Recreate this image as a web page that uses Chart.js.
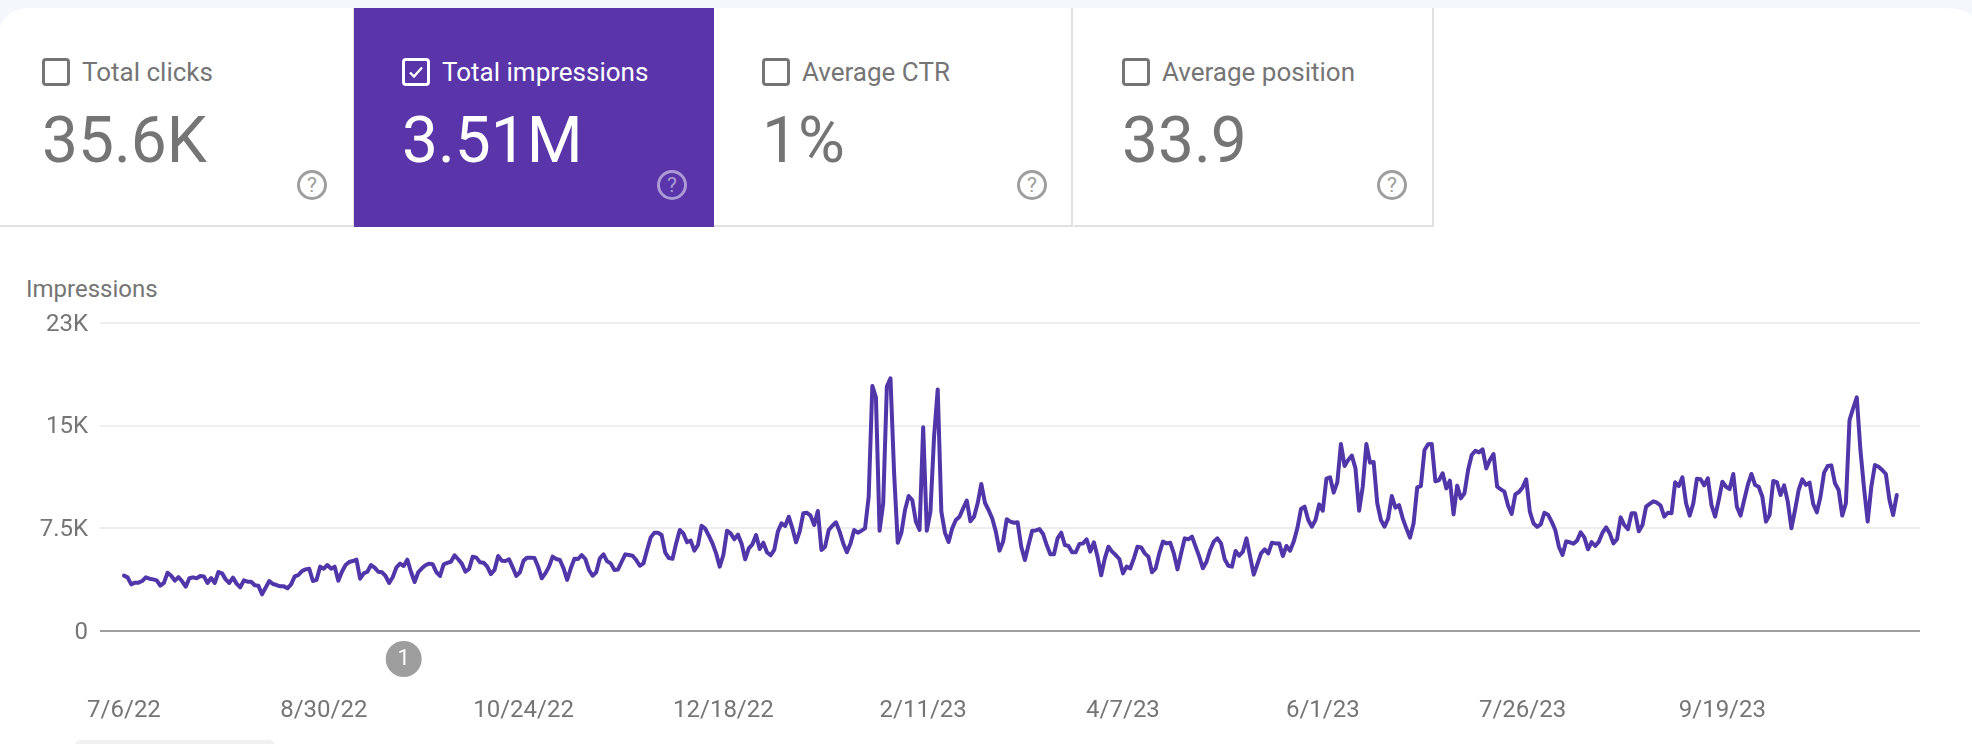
<!DOCTYPE html>
<html>
<head>
<meta charset="utf-8">
<title>Search performance</title>
<script src="https://cdn.jsdelivr.net/npm/chart.js@4"></script>
<style>
  html, body { margin: 0; padding: 0; background: #f4f7fc; font-family: Roboto, sans-serif; }
  #page { position: absolute; left: 0; top: 8px; width: 1972px; height: 736px; background: #fff; border-top-left-radius: 30px 22px; border-top-right-radius: 30px 10px; overflow: hidden; }
  .tile { position: absolute; top: 0; height: 217px; box-sizing: content-box; border-bottom: 2px solid #e0e0e0; border-right: 2px solid #e0e0e0; color: #757575; }
  .tile.on { background: #5935a9; color: #fff; border-color: #5935a9; height: 219px; border-bottom: 0; border-right: 0; }
  .box { position: absolute; left: 48px; top: 50px; width: 22px; height: 22px; border: 3px solid #757575; border-radius: 4px; }
  .on .box { border-color: #fff; }
  .on .box svg { position: absolute; left: 2px; top: 2px; }
  .label { position: absolute; left: 88px; top: 49px; font-size: 26px; line-height: 30px; white-space: nowrap; }
  .value { position: absolute; left: 48px; top: 95px; font-size: 64px; line-height: 76px; white-space: nowrap; }
  .help { position: absolute; left: 303px; top: 162px; width: 24px; height: 24px; border: 3px solid #9e9e9e; border-radius: 50%; color: #9e9e9e; font-size: 21px; line-height: 24px; text-align: center; }
  .on .help { border-color: #ac9ad4; color: #ac9ad4; }
  #axisTitle { position: absolute; left: 26px; top: 268px; font-size: 24px; line-height: 26px; color: #757575; }
  #foot { position: absolute; left: 75px; top: 732px; width: 200px; height: 6px; background: #f1f1f1; border-radius: 6px 6px 0 0; }
  canvas { position: absolute; left: 0; top: 232px; }
</style>
</head>
<body>
<div id="page">
  <div id="tiles"></div>
  <div id="axisTitle">Impressions</div>
  <div id="foot"></div>
  <canvas id="myChart" width="1972" height="504"></canvas>
</div>
<script>
const tileNames = ["Total clicks", "Total impressions", "Average CTR", "Average position"];
const tileValues = ["35.6K", "3.51M", "1%", "33.9"];
const selectedTile = 1;

const yTickValues = [0, 7500, 15000, 22500];
const yTickLabels = ["0", "7.5K", "15K", "23K"];

// one x label every 55 days, starting on the first day
const xTickStep = 55;
const xTickLabels = ["7/6/22", "8/30/22", "10/24/22", "12/18/22", "2/11/23", "4/7/23", "6/1/23", "7/26/23", "9/19/23"];

// day index of the numbered annotation under the axis
const annotationDay = 77;
const annotationLabel = "1";

// daily impressions from 7/6/22
const impressions = [
  4040,3920,3410,3530,3530,3650,3920,3820,3770,3700,3310,3510,4260,4040,3680,3940,3630,3240,3850,3920,
  3850,4020,3990,3510,3870,3510,4310,4210,3770,3510,3900,3460,3190,3700,3600,3600,3340,3310,2680,3170,
  3650,3430,3360,3260,3260,3120,3410,3990,4090,4380,4500,4550,3650,3730,4700,4550,4820,4550,4700,3680,
  4330,4820,5040,5110,5210,3820,4210,4330,4820,4630,4330,4290,4020,3510,3940,4650,4920,4750,5210,4330,
  3580,4290,4580,4800,4920,4870,4290,4020,4870,4970,5060,5530,5240,4920,4330,4530,5430,5360,
  5020,4990,4700,4160,4460,5480,5140,5110,5240,4650,4020,4290,5140,5360,5360,5330,4700,3850,4210,4700,
  5430,5260,5190,4580,3730,4580,5280,5260,5550,5260,4460,4040,4290,5310,5600,5090,4940,4460,4500,5060,
  5600,5550,5500,5190,4770,4940,5920,6840,7180,7180,7010,5720,5330,5280,6400,7380,7130,6480,6600,5870,
  6280,7690,7480,6960,6400,5670,4700,5550,7330,7130,6700,7040,6400,5240,6040,6330,7010,5990,6450,5750,
  5530,5920,7260,7870,7670,8350,7500,6480,7260,8600,8640,8430,7740,8770,5920,6160,7380,7690,7940,7260,
  6400,5750,6400,7380,7180,7330,7500,9810,17900,17070,7330,9330,17850,18460,11520,6450,7180,8840,9860,9570,
  7990,7380,14880,7330,8720,14200,17650,8720,7180,6500,7500,8110,8350,8960,9520,8010,8350,9330,
  10740,9370,8840,8230,7260,5870,6530,8160,7990,7910,7940,6160,5190,6280,7330,7350,7450,7090,6280,5600,
  5600,6770,7180,6280,6210,5750,5750,6360,6400,6700,5800,6480,5430,4070,5310,6160,5800,5550,5260,4210,
  4700,4580,5310,6160,6110,5670,5430,4290,4580,5670,6530,6400,6450,5670,4500,5670,6770,6700,6890,6160,
  5430,4580,5060,5920,6530,6770,6400,5240,4770,4700,5840,5500,5800,6770,5430,4120,4890,5670,5970,5670,
  6450,6400,6400,5480,6210,5870,6530,7500,8910,9080,8110,7620,8110,9250,8790,11130,11230,10110,10860,13660,12050,
  12490,12810,11880,8790,10540,13660,12300,12350,9330,8110,7620,8230,9860,9010,9200,8230,7500,6820,7870,10490,
  10590,13220,13640,13660,10930,11030,11520,10420,10980,8520,10620,
  9690,10060,11760,12860,13170,13050,13270,11880,12490,12930,10540,10350,10180,9160,8550,9980,10150,10490,11080,8720,
  7870,7600,7790,8640,8500,7990,7380,6160,5550,6550,6480,6380,6600,7210,6840,5970,6500,6210,6530,7180,
  7570,7130,6400,6700,8300,7740,7430,8600,8600,7280,7740,9080,9280,9470,9370,9160,8350,8640,8600,10860,
  10590,11230,9330,8430,9330,11130,11080,10640,11150,9200,8350,9570,10910,10540,10370,11470,9080,8430,9570,10670,
  11470,10670,10540,9810,7990,8470,10960,10880,9930,10640,9450,7500,8840,10300,11080,10670,10840,9280,8670,9810,
  11570,12050,12100,10790,10300,8430,9330,15410,16270,17070,13220,10420,7990,10540,12130,12000,11760,11470,9570,8470,
  9930
];

// the tiles along the top
const tilesEl = document.getElementById("tiles");
const tileLefts = [-6, 354, 714, 1074];
const tileWidths = [359, 360, 357, 358];
tileNames.forEach(function (name, i) {
  let on = i == selectedTile;
  let tile = document.createElement("div");
  tile.className = on ? "tile on" : "tile";
  tile.style.left = tileLefts[i] + "px";
  tile.style.width = tileWidths[i] + "px";
  let tick = on ? '<svg width="18" height="18" viewBox="0 0 18 18"><path d="M3 9.5l4 4 8-9" fill="none" stroke="#fff" stroke-width="2.4"/></svg>' : "";
  tile.innerHTML =
    '<div class="box">' + tick + '</div>' +
    '<div class="label">' + name + '</div>' +
    '<div class="value">' + tileValues[i] + '</div>' +
    '<div class="help">?</div>';
  tilesEl.appendChild(tile);
});

const annotationPlugin = {
  id: "annotationPlugin",
  afterDraw(chart) {
    const ctx = chart.ctx;
    const x = chart.scales.x.getPixelForValue(annotationDay);
    const y = chart.scales.y.bottom + 28;
    ctx.save();
    ctx.beginPath();
    ctx.arc(x, y, 18, 0, Math.PI * 2);
    ctx.fillStyle = "#9e9e9e";
    ctx.fill();
    ctx.fillStyle = "#fff";
    ctx.font = "22px Roboto";
    ctx.textAlign = "center";
    ctx.textBaseline = "middle";
    ctx.fillText(annotationLabel, x, y);
    ctx.restore();
  }
};

const config = {
  type: "line",
  data: {
    datasets: [{
      label: "Impressions",
      data: impressions.map(function (v, i) { return { x: i, y: v }; }),
      borderColor: "#5136aa",
      borderWidth: 4,
      pointRadius: 0,
      tension: 0,
      borderJoinStyle: "round",
      borderCapStyle: "round"
    }]
  },
  options: {
    responsive: false,
    animation: false,
    devicePixelRatio: 1,
    layout: { padding: { top: 83, right: 52, left: 0, bottom: 0 } },
    plugins: { legend: { display: false }, title: { display: false }, tooltip: { enabled: false } },
    scales: {
      x: {
        type: "linear",
        min: -6.6,
        max: 494.4,
        afterFit(scale) { scale.height = 113; },
        afterBuildTicks(scale) {
          scale.ticks = xTickLabels.map(function (l, i) { return { value: i * xTickStep }; });
        },
        grid: { display: false },
        border: { display: false },
        ticks: {
          autoSkip: false,
          maxRotation: 0,
          padding: 58,
          color: "#757575",
          font: { family: "Roboto", size: 24 },
          callback: function (value) { return xTickLabels[Math.round(value / xTickStep)]; }
        }
      },
      y: {
        min: 0,
        max: 22500,
        afterFit(scale) { scale.width = 100; },
        afterBuildTicks(scale) {
          scale.ticks = yTickValues.map(function (v) { return { value: v }; });
        },
        grid: {
          drawTicks: false,
          lineWidth: 2,
          color: function (c) { return c.tick.value == 0 ? "#9e9e9e" : "#eeeeee"; }
        },
        border: { display: false },
        ticks: {
          padding: 12,
          labelOffset: 1.5,
          color: "#757575",
          font: { family: "Roboto", size: 24 },
          callback: function (value) { return yTickLabels[yTickValues.indexOf(value)]; }
        }
      }
    }
  },
  plugins: [annotationPlugin]
};

const myChart = new Chart(document.getElementById("myChart"), config);
</script>
</body>
</html>
